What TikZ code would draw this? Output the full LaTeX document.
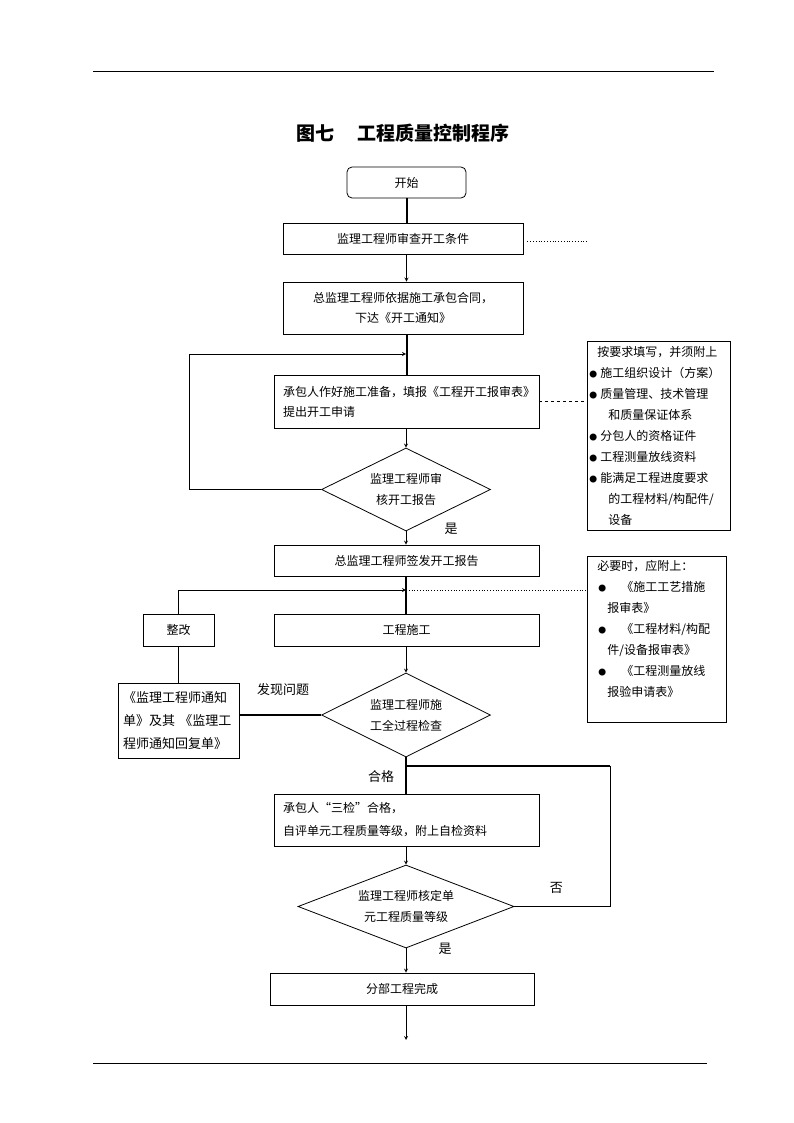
\documentclass[tikz,border=0pt]{standalone}
\usepackage{fontspec}
\newfontfamily\cjk{Noto Sans CJK SC}
\usetikzlibrary{shapes.geometric,arrows}
\newcommand{\bul}{\makebox[11pt][l]{\scalebox{0.65}{●}}}

\tikzset{
  box/.style={draw, line width=0.8pt, inner sep=0pt, align=center, font=\cjk\fontsize{12}{20}\selectfont},
  dia/.style={draw, diamond, aspect=2, line width=0.8pt, inner sep=0pt, align=center, font=\cjk\fontsize{12}{21}\selectfont},
  note/.style={draw, line width=0.8pt, anchor=north west, inner xsep=2pt, inner ysep=3pt, align=left, font=\cjk\fontsize{12}{21}\selectfont},
  lab/.style={font=\cjk\fontsize{13}{13}\selectfont},
  bold line/.style={line width=2pt},
}

\begin{document}
\begin{tikzpicture}[x=1pt, y=-1pt, >=stealth, line width=0.8pt]
	\useasboundingbox (0,0) rectangle (794,1123);
	\draw[line width=1pt] (93,72) -- (714,72);
	\draw (93,1063) -- (707,1063);
	\node[font=\cjk\bfseries\fontsize{19}{19}\selectfont] (title) at (403,133) {图七\hspace{1.25em}工程质量控制程序};

	% main column
	\node[box, rounded corners=5pt, minimum width=119pt, minimum height=31pt] (start) at (406.5,182.5) {开始};
	\node[box, minimum width=240pt, minimum height=31pt] (check) at (403,238.5) {监理工程师审查开工条件};
	\node[box, minimum width=240pt, minimum height=52pt] (notice) at (403,308) {总监理工程师依据施工承包合同，\\下达《开工通知》};
	\node[box, minimum width=265pt, minimum height=53pt, text width=247pt, align=left] (apply) at (406.5,401.5) {承包人作好施工准备，填报《工程开工报审表》\\提出开工申请};
	\node[dia, minimum width=169pt, minimum height=83pt] (d1) at (406,489.5) {监理工程师审\\核开工报告};
	\node[box, minimum width=265pt, minimum height=31pt] (issue) at (406.5,560.5) {总监理工程师签发开工报告};
	\node[box, minimum width=265pt, minimum height=32pt] (work) at (406.5,630) {工程施工};
	\node[dia, minimum width=169pt, minimum height=84pt] (d2) at (406,715) {监理工程师施\\工全过程检查};
	\node[box, minimum width=265pt, minimum height=52pt, text width=247pt, align=left, font=\cjk\fontsize{12}{23}\selectfont] (self) at (406.5,820) {承包人“三检”合格，\\自评单元工程质量等级，附上自检资料};
	\node[dia, minimum width=216pt, minimum height=83pt] (d3) at (406,906.5) {监理工程师核定单\\元工程质量等级};
	\node[box, minimum width=264pt, minimum height=32pt] (done) at (402,989) {分部工程完成};

	% left side
	\node[box, minimum width=71pt, minimum height=32pt] (fix) at (178.5,630) {整改};
	\node[box, minimum width=121pt, minimum height=75pt, text width=111pt, align=left, font=\cjk\fontsize{13}{23}\selectfont] (memo) at (178.5,720.5) {《监理工程师通知\\单》及其 《监理工\\程师通知回复单》};

	% right side notes
	\node[note, minimum width=143pt, minimum height=189pt, text width=139pt] (side1) at (587,341) {\hspace{8pt}按要求填写，并须附上\\\bul 施工组织设计（方案）\\\bul 质量管理、技术管理\\\hspace{19pt}和质量保证体系\\\bul 分包人的资格证件\\\bul 工程测量放线资料\\\bul 能满足工程进度要求\\\hspace{19pt}的工程材料/构配件/\\\hspace{19pt}设备};
	\node[note, minimum width=139pt, minimum height=166pt, text width=135pt] (side2) at (587,556) {\hspace{8pt}必要时，应附上：\\\hspace{9pt}\bul\hspace{12pt}《施工工艺措施\\\hspace{18pt}报审表》\\\hspace{9pt}\bul\hspace{12pt}《工程材料/构配\\\hspace{18pt}件/设备报审表》\\\hspace{9pt}\bul\hspace{12pt}《工程测量放线\\\hspace{18pt}报验申请表》\\\mbox{}};

	\coordinate (loopin) at (406,354);
	\coordinate (join) at (406,590);
	\coordinate (okjoin) at (406,766);
	\coordinate (ret) at (610,766);
	\coordinate (dotend) at (588,241);
	\coordinate (end) at (406,1040);

	\draw[bold line] (start.south) -- (start.south |- check.north);
	\draw[->] (start.south |- check.south) -- (start.south |- notice.north);
	\draw[bold line] (start.south |- notice.south) -- (start.south |- apply.north);
	\draw[->] (d1.west) -- ++(-132,0) |- (loopin);
	\draw[->] (apply.south -| d1.north) -- (d1.north);
	\draw[->] (d1.south) -- (d1.south |- issue.north);
	\draw[bold line] (d1.south |- issue.south) -- (d1.south |- work.north);
	\draw[->] (fix.north) |- (join);
	\draw[->] (d2.north |- work.south) -- (d2.north);
	\draw[bold line] (d2.west) -- (d2.west -| memo.east);
	\draw[line width=1.2pt] (memo.north) -- (fix.south);
	\draw[bold line] (d2.south) -- (d2.south |- self.north);
	\draw[bold line] (okjoin) -- (ret);
	\draw (ret) |- (d3.east);
	\draw[->] (d3.north |- self.south) -- (d3.north);
	\draw[->] (d3.south) -- (d3.south |- done.north);
	\draw[->] (d3.south |- done.south) -- (end);

	\draw[dotted] ([xshift=4pt,yshift=-2.5pt]check.east) -- (dotend);
	\draw[dashed] (apply.east) -- (apply.east -| side1.west);
	\draw[dotted] (join) -- (join -| side2.west);

	\node[lab] at ([xshift=45pt,yshift=3pt]d1.south) {是};
	\node[lab] at ([xshift=-38pt,yshift=25pt]d2.west) {发现问题};
	\node[lab] at ([xshift=-25pt,yshift=-19pt]d2.south) {合格};
	\node[lab] at ([xshift=42pt,yshift=19pt]d3.east) {否};
	\node[lab] at ([xshift=39pt]d3.south) {是};
\end{tikzpicture}
\end{document}
